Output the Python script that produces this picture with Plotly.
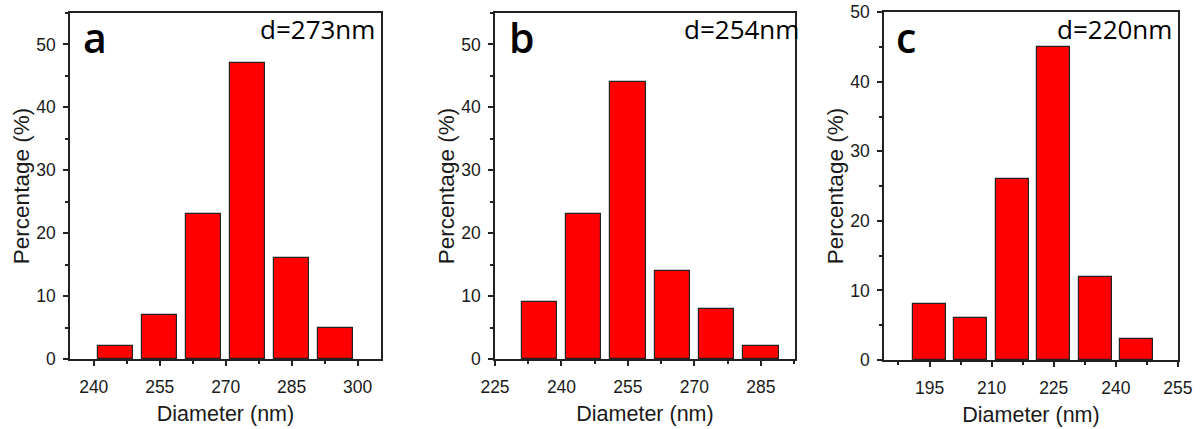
import plotly.graph_objects as go

OFF = 0
W, H = 1201, 429

# ---- data ----
diam_a = [245, 255, 265, 275, 285, 295]
pct_a = [2, 7, 23, 47, 16, 5]
diam_b = [235, 245, 255, 265, 275, 285]
pct_b = [9, 23, 44, 14, 8, 2]
diam_c = [195, 205, 215, 225, 235, 245]
pct_c = [8, 6, 26, 45, 12, 3]

panel_labels = ["a", "b", "c"]
mean_labels = ["d=273nm", "d=254nm", "d=220nm"]
x_title = "Diameter (nm)"
y_title = "Percentage (%)"


def fx(px):
    return (px - OFF) / W


def fy(py):
    return (H - (py - OFF)) / H


# ---- layout (page pixel geometry) ----
panels = [
    dict(x=diam_a, y=pct_a, px=(70, 381), py=(13, 359), xr=[234.6, 305.3], yr=[0, 55],
         xt0=240, lab_x=81, txt_r=377),
    dict(x=diam_b, y=pct_b, px=(495, 795), py=(13, 359), xr=[225, 292.7], yr=[0, 55],
         xt0=225, lab_x=507, txt_r=801),
    dict(x=diam_c, y=pct_c, px=(884, 1178), py=(12, 360), xr=[184, 255.02], yr=[0, 50.03],
         xt0=195, lab_x=894, txt_r=1174),
]

SANS = "Liberation Sans"
fig = go.Figure()
tick_font = dict(family=SANS, size=17.5, color="#1a1a1a")

for i, p in enumerate(panels):
    n = "" if i == 0 else str(i + 1)
    xa, ya = "x" + n, "y" + n
    fig.add_trace(go.Bar(
        x=p["x"], y=p["y"], width=8, xaxis=xa, yaxis=ya,
        marker=dict(color="#ff0000", line=dict(color="#222", width=1.2)),
        showlegend=False,
    ))
    xd = [fx(p["px"][0]), fx(p["px"][1])]
    yd = [fy(p["py"][1]), fy(p["py"][0])]
    common = dict(showline=True, linecolor="#222", linewidth=1.5, mirror=True,
                  ticks="outside", ticklen=5, tickwidth=1.5, tickcolor="#222",
                  showgrid=False, zeroline=False, tickfont=tick_font, automargin=False,
                  ticklabeloverflow="allow")
    fig.layout["xaxis" + n] = dict(
        domain=xd, range=p["xr"], anchor=ya, tick0=p["xt0"], dtick=15,
        ticklabelstandoff=6,
        minor=dict(dtick=7.5, tick0=p["xt0"], ticks="outside", ticklen=3,
                   tickwidth=1.5, tickcolor="#222"),
        title=dict(text=x_title, font=dict(family=SANS, size=21.5, color="#1a1a1a"),
                   standoff=10),
        **common)
    fig.layout["yaxis" + n] = dict(
        domain=yd, range=p["yr"], anchor=xa, tick0=0, dtick=10,
        ticklabelstandoff=4,
        minor=dict(dtick=5, ticks="outside", ticklen=3, tickwidth=1.5, tickcolor="#222"),
        title=dict(text=y_title, font=dict(family=SANS, size=22.5, color="#1a1a1a"),
                   standoff=0),
        **common)
    fig.add_annotation(text=panel_labels[i], xref="paper", yref="paper",
                       x=fx(p["lab_x"]), y=fy(37), xanchor="left", yanchor="middle",
                       showarrow=False,
                       font=dict(family="Open Sans", size=41, color="#000", weight=600))
    fig.add_annotation(text=mean_labels[i], xref="paper", yref="paper",
                       x=fx(p["txt_r"]), y=fy(29), xanchor="right", yanchor="middle",
                       showarrow=False,
                       font=dict(family="Open Sans", size=26, color="#000"))

fig.update_layout(width=W, height=H, autosize=False,
                  margin=dict(l=0, r=0, t=0, b=0),
                  paper_bgcolor="white", plot_bgcolor="white", bargap=0)

fig.write_html("out.html", config={"displayModeBar": False},
               post_script="document.body.style.margin='0';document.body.style.overflow='hidden';")
